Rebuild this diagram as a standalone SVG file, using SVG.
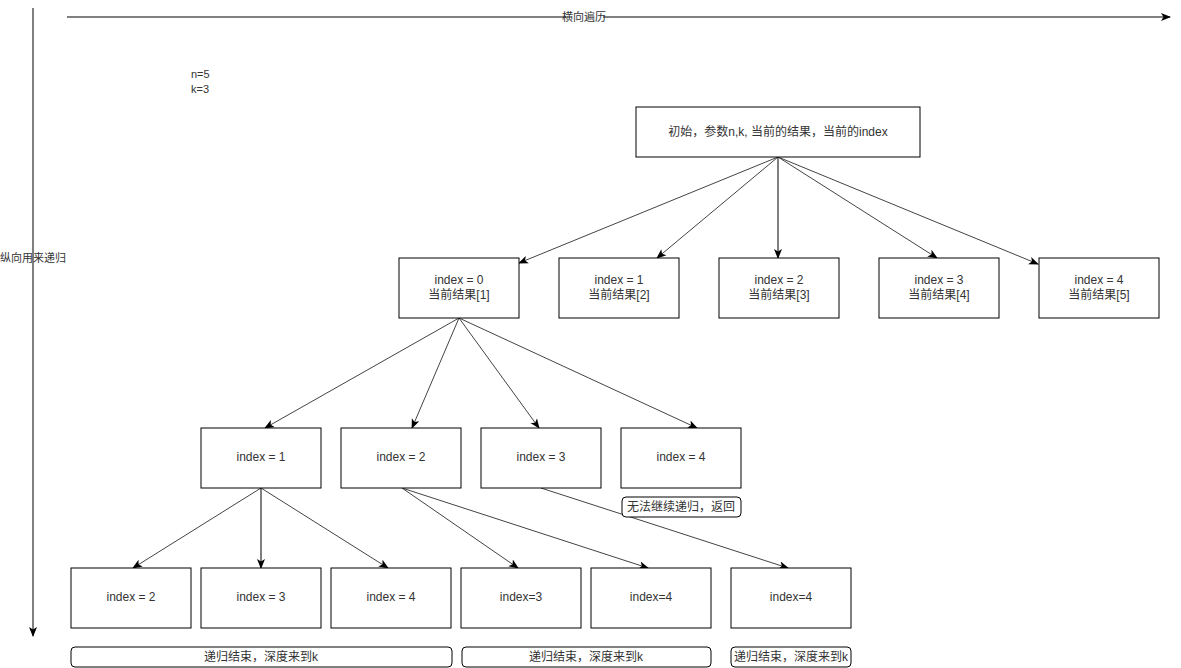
<svg xmlns="http://www.w3.org/2000/svg" width="1181" height="668" viewBox="0 0 1181 668">
<style>
.box{fill:#fff;stroke:#000;stroke-width:1}
.rbox{fill:#fff;stroke:#000;stroke-width:1}
.t{font-family:"Liberation Sans","Noto Sans CJK SC",sans-serif;font-size:12px;fill:#333;text-anchor:middle;dominant-baseline:central}
.s{font-size:11px}
.l{text-anchor:start}
.e{stroke:#444;stroke-width:1;fill:none;marker-end:url(#arr)}
.a{stroke:#000;stroke-width:1;fill:none;marker-end:url(#arr)}
</style>
<defs>
<marker id="arr" viewBox="0 0 10 10" refX="9" refY="5" markerWidth="10" markerHeight="10" markerUnits="userSpaceOnUse" orient="auto">
<path d="M0,1 L10,5 L0,9 L2.5,5 Z" fill="#000"/>
</marker>
</defs>
<rect width="1181" height="668" fill="#fff"/>
<g id="axes">
<line class="a" x1="67" y1="17" x2="1170" y2="17"/>
<rect x="566" y="10" width="37" height="14" fill="#fff"/>
<text class="t s" x="584" y="17">横向遍历</text>
<line class="a" x1="33" y1="8" x2="33" y2="636"/>
<text class="t s" x="33" y="258">纵向用来递归</text>
</g>
<g id="params">
<text class="t s l" x="191" y="74">n=5</text>
<text class="t s l" x="191" y="89">k=3</text>
</g>
<g id="connectors">
<line class="e" x1="778" y1="157" x2="519" y2="263"/>
<line class="e" x1="778" y1="157" x2="657" y2="258"/>
<line class="a" x1="778" y1="157" x2="778" y2="258"/>
<line class="e" x1="778" y1="157" x2="937" y2="258"/>
<line class="e" x1="778" y1="157" x2="1038" y2="264"/>
<line class="e" x1="459" y1="318" x2="265" y2="428"/>
<line class="e" x1="459" y1="318" x2="412" y2="428"/>
<line class="e" x1="459" y1="318" x2="539" y2="428"/>
<line class="e" x1="459" y1="318" x2="697" y2="428"/>
<line class="e" x1="261" y1="488" x2="133" y2="568"/>
<line class="a" x1="261" y1="488" x2="261" y2="568"/>
<line class="e" x1="261" y1="488" x2="388" y2="568"/>
<line class="e" x1="402" y1="488" x2="518" y2="568"/>
<line class="e" x1="402" y1="488" x2="648" y2="568"/>
<line class="e" x1="541" y1="488" x2="788" y2="568"/>
</g>
<g id="root"><rect class="box" x="636" y="107" width="284" height="50"/><text class="t" x="778" y="132">初始，参数n,k, 当前的结果，当前的index</text></g>
<g id="l1-0"><rect class="box" x="399" y="258" width="120" height="60"/><text class="t" x="459" y="280">index = 0</text><text class="t" x="459" y="295">当前结果[1]</text></g>
<g id="l1-1"><rect class="box" x="559" y="258" width="120" height="60"/><text class="t" x="619" y="280">index = 1</text><text class="t" x="619" y="295">当前结果[2]</text></g>
<g id="l1-2"><rect class="box" x="719" y="258" width="120" height="60"/><text class="t" x="779" y="280">index = 2</text><text class="t" x="779" y="295">当前结果[3]</text></g>
<g id="l1-3"><rect class="box" x="879" y="258" width="120" height="60"/><text class="t" x="939" y="280">index = 3</text><text class="t" x="939" y="295">当前结果[4]</text></g>
<g id="l1-4"><rect class="box" x="1039" y="258" width="120" height="60"/><text class="t" x="1099" y="280">index = 4</text><text class="t" x="1099" y="295">当前结果[5]</text></g>
<g id="l2-1"><rect class="box" x="201" y="428" width="120" height="60"/><text class="t" x="261" y="457">index = 1</text></g>
<g id="l2-2"><rect class="box" x="341" y="428" width="120" height="60"/><text class="t" x="401" y="457">index = 2</text></g>
<g id="l2-3"><rect class="box" x="481" y="428" width="120" height="60"/><text class="t" x="541" y="457">index = 3</text></g>
<g id="l2-4"><rect class="box" x="621" y="428" width="120" height="60"/><text class="t" x="681" y="457">index = 4</text></g>
<g id="note-return"><rect class="rbox" x="622" y="497" width="119" height="20" rx="4"/><text class="t" x="681" y="507">无法继续递归，返回</text></g>
<g id="l3-a"><rect class="box" x="71" y="568" width="120" height="60"/><text class="t" x="131" y="597">index = 2</text></g>
<g id="l3-b"><rect class="box" x="201" y="568" width="120" height="60"/><text class="t" x="261" y="597">index = 3</text></g>
<g id="l3-c"><rect class="box" x="331" y="568" width="120" height="60"/><text class="t" x="391" y="597">index = 4</text></g>
<g id="l3-d"><rect class="box" x="461" y="568" width="120" height="60"/><text class="t" x="521" y="597">index=3</text></g>
<g id="l3-e"><rect class="box" x="591" y="568" width="120" height="60"/><text class="t" x="651" y="597">index=4</text></g>
<g id="l3-f"><rect class="box" x="731" y="568" width="120" height="60"/><text class="t" x="791" y="597">index=4</text></g>
<g id="end-1"><rect class="rbox" x="71" y="647" width="381" height="20" rx="4"/><text class="t" x="261" y="657">递归结束，深度来到k</text></g>
<g id="end-2"><rect class="rbox" x="462" y="647" width="249" height="20" rx="4"/><text class="t" x="586" y="657">递归结束，深度来到k</text></g>
<g id="end-3"><rect class="rbox" x="731" y="647" width="120" height="20" rx="4"/><text class="t" x="791" y="657">递归结束，深度来到k</text></g>
</svg>
